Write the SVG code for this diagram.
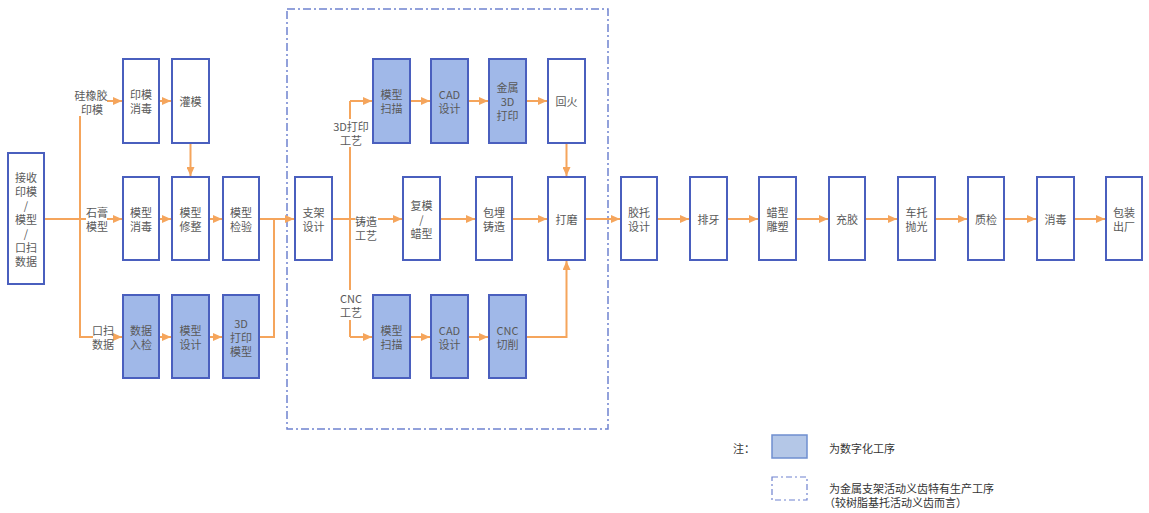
<svg xmlns="http://www.w3.org/2000/svg" width="1149" height="513" viewBox="0 0 1149 513">
<style>
.b{fill:#fff;stroke:#4A5FBE;stroke-width:2}
.d{fill:#A0B8E8}
.t{font-family:"Noto Sans CJK SC","Noto Sans",sans-serif;font-size:11px;fill:#595959;text-anchor:middle;dominant-baseline:central}
.l{font-family:"Noto Sans CJK SC","Noto Sans",sans-serif;font-size:11px;fill:#333;dominant-baseline:central}
.c{fill:none;stroke:#F5A55C;stroke-width:2}
.a{marker-end:url(#ah)}
</style>
<defs>
<marker id="ah" markerUnits="userSpaceOnUse" markerWidth="9" markerHeight="8" refX="9" refY="4" orient="auto"><path d="M0,0 L9,4 L0,8 z" fill="#F5A55C"/></marker>
</defs>
<rect x="287" y="9" width="321" height="420" fill="none" stroke="#6F82CF" stroke-width="1.5" stroke-dasharray="8 3 2 3"/>
<g id="connectors">
<path class="c" d="M44,219 H86"/>
<path class="c" d="M80,116 V337 H93"/>
<path class="c a" d="M107,101 H122"/>
<path class="c a" d="M107,219 H122"/>
<path class="c a" d="M113,337 H122"/>
<path class="c a" d="M159,101 H171"/>
<path class="c a" d="M190.5,143 V176"/>
<path class="c a" d="M159,219 H171"/>
<path class="c a" d="M209,219 H222"/>
<path class="c a" d="M159,337 H171"/>
<path class="c a" d="M209,337 H222"/>
<path class="c a" d="M259,219 H294"/>
<path class="c" d="M259,337 H274 V219"/>
<path class="c" d="M332,219 H355"/>
<path class="c" d="M350,101 V337"/>
<path class="c a" d="M350,101 H372"/>
<path class="c a" d="M350,337 H372"/>
<path class="c a" d="M378,219 H402"/>
<path class="c a" d="M410,101 H430"/>
<path class="c a" d="M468,101 H488"/>
<path class="c a" d="M526,101 H547"/>
<path class="c a" d="M566.5,143 V176"/>
<path class="c a" d="M440,219 H475"/>
<path class="c a" d="M512,219 H547"/>
<path class="c a" d="M410,337 H430"/>
<path class="c a" d="M468,337 H488"/>
<path class="c a" d="M526,337 H566.5 V261"/>
<path class="c a" d="M585,219 H620"/>
<path class="c a" d="M657,219 H689"/>
<path class="c a" d="M727,219 H758"/>
<path class="c a" d="M796,219 H828"/>
<path class="c a" d="M865,219 H897"/>
<path class="c a" d="M935,219 H967"/>
<path class="c a" d="M1004,219 H1036"/>
<path class="c a" d="M1074,219 H1105"/>
<rect x="333" y="119" width="36" height="28" fill="#fff"/>
<rect x="340" y="290" width="22" height="30" fill="#fff"/>
<text class="t" x="91" y="95">硅橡胶<tspan x="92" dy="14">印模</tspan></text>
<text class="t" x="97" y="212">石膏<tspan x="97" dy="14">模型</tspan></text>
<text class="t" x="103" y="330">口扫<tspan x="103" dy="14">数据</tspan></text>
<text class="t" x="351" y="126">3D打印<tspan x="351" dy="14">工艺</tspan></text>
<text class="t" x="366" y="221">铸造<tspan x="366" dy="14">工艺</tspan></text>
<text class="t" x="351" y="298">CNC<tspan x="351" dy="14">工艺</tspan></text>
</g>
<g id="n-recv"><rect class="b" x="8" y="153" width="36" height="131"/>
<text class="t" x="26" y="176.5">接收<tspan x="26" dy="14">印模</tspan><tspan x="26" dy="14">/</tspan><tspan x="26" dy="14">模型</tspan><tspan x="26" dy="14">/</tspan><tspan x="26" dy="14">口扫</tspan><tspan x="26" dy="14">数据</tspan></text></g>
<g id="n-yinmo"><rect class="b" x="123" y="59" width="36" height="84"/><text class="t" x="141" y="94">印模<tspan x="141" dy="14">消毒</tspan></text></g>
<g id="n-guanmo"><rect class="b" x="172" y="59" width="37" height="84"/><text class="t" x="190.5" y="101">灌模</text></g>
<g id="n-mxxd"><rect class="b" x="123" y="177" width="36" height="83"/><text class="t" x="141" y="212">模型<tspan x="141" dy="14">消毒</tspan></text></g>
<g id="n-mxxz"><rect class="b" x="172" y="177" width="37" height="83"/><text class="t" x="190.5" y="212">模型<tspan x="190.5" dy="14">修整</tspan></text></g>
<g id="n-mxjy"><rect class="b" x="223" y="177" width="36" height="83"/><text class="t" x="241" y="212">模型<tspan x="241" dy="14">检验</tspan></text></g>
<g id="n-sjrj"><rect class="b d" x="123" y="295" width="36" height="83"/><text class="t" x="141" y="330">数据<tspan x="141" dy="14">入检</tspan></text></g>
<g id="n-mxsj"><rect class="b d" x="172" y="295" width="37" height="83"/><text class="t" x="190.5" y="330">模型<tspan x="190.5" dy="14">设计</tspan></text></g>
<g id="n-3dmx"><rect class="b d" x="223" y="295" width="36" height="83"/><text class="t" x="241" y="322.5">3D<tspan x="241" dy="14">打印</tspan><tspan x="241" dy="14">模型</tspan></text></g>
<g id="n-zjsj"><rect class="b" x="295" y="177" width="37" height="83"/><text class="t" x="313.5" y="212">支架<tspan x="313.5" dy="14">设计</tspan></text></g>
<g id="n-smA"><rect class="b d" x="373" y="59" width="37" height="84"/><text class="t" x="391.5" y="94">模型<tspan x="391.5" dy="14">扫描</tspan></text></g>
<g id="n-cadA"><rect class="b d" x="431" y="59" width="37" height="84"/><text class="t" x="449.5" y="94">CAD<tspan x="449.5" dy="14">设计</tspan></text></g>
<g id="n-js3d"><rect class="b d" x="489" y="59" width="37" height="84"/><text class="t" x="507.5" y="87">金属<tspan x="507.5" dy="14">3D</tspan><tspan x="507.5" dy="14">打印</tspan></text></g>
<g id="n-huihuo"><rect class="b" x="548" y="59" width="37" height="84"/><text class="t" x="566.5" y="101">回火</text></g>
<g id="n-fumo"><rect class="b" x="403" y="177" width="37" height="83"/><text class="t" x="421.5" y="205">复模<tspan x="421.5" dy="14">/</tspan><tspan x="421.5" dy="14">蜡型</tspan></text></g>
<g id="n-bmzz"><rect class="b" x="476" y="177" width="36" height="83"/><text class="t" x="494" y="212">包埋<tspan x="494" dy="14">铸造</tspan></text></g>
<g id="n-dm"><rect class="b" x="548" y="177" width="37" height="83"/><text class="t" x="566.5" y="219">打磨</text></g>
<g id="n-smB"><rect class="b d" x="373" y="295" width="37" height="83"/><text class="t" x="391.5" y="330">模型<tspan x="391.5" dy="14">扫描</tspan></text></g>
<g id="n-cadB"><rect class="b d" x="431" y="295" width="37" height="83"/><text class="t" x="449.5" y="330">CAD<tspan x="449.5" dy="14">设计</tspan></text></g>
<g id="n-cnc"><rect class="b d" x="489" y="295" width="37" height="83"/><text class="t" x="507.5" y="330">CNC<tspan x="507.5" dy="14">切削</tspan></text></g>
<g id="n-jtsj"><rect class="b" x="621" y="177" width="36" height="83"/><text class="t" x="639" y="212">胶托<tspan x="639" dy="14">设计</tspan></text></g>
<g id="n-py"><rect class="b" x="690" y="177" width="37" height="83"/><text class="t" x="708.5" y="219">排牙</text></g>
<g id="n-lxds"><rect class="b" x="759" y="177" width="37" height="83"/><text class="t" x="777.5" y="212">蜡型<tspan x="777.5" dy="14">雕塑</tspan></text></g>
<g id="n-cj"><rect class="b" x="829" y="177" width="36" height="83"/><text class="t" x="847" y="219">充胶</text></g>
<g id="n-ctpg"><rect class="b" x="898" y="177" width="37" height="83"/><text class="t" x="916.5" y="212">车托<tspan x="916.5" dy="14">抛光</tspan></text></g>
<g id="n-zj"><rect class="b" x="968" y="177" width="36" height="83"/><text class="t" x="986" y="219">质检</text></g>
<g id="n-xd"><rect class="b" x="1037" y="177" width="37" height="83"/><text class="t" x="1055.5" y="219">消毒</text></g>
<g id="n-bzcc"><rect class="b" x="1106" y="177" width="36" height="83"/><text class="t" x="1124" y="212">包装<tspan x="1124" dy="14">出厂</tspan></text></g>
<g id="legend">
<text class="l" x="733" y="448">注：</text>
<rect x="772" y="435" width="35" height="23" fill="#B4C7E7" stroke="#6F8FD0" stroke-width="1.5"/>
<text class="l" x="829" y="448">为数字化工序</text>
<rect x="772" y="477" width="35" height="23" fill="none" stroke="#6F82CF" stroke-width="1.2" stroke-dasharray="6 3 2 3"/>
<text class="l" x="829" y="488">为金属支架活动义齿特有生产工序<tspan x="824" dy="14">（较树脂基托活动义齿而言）</tspan></text>
</g>
</svg>
